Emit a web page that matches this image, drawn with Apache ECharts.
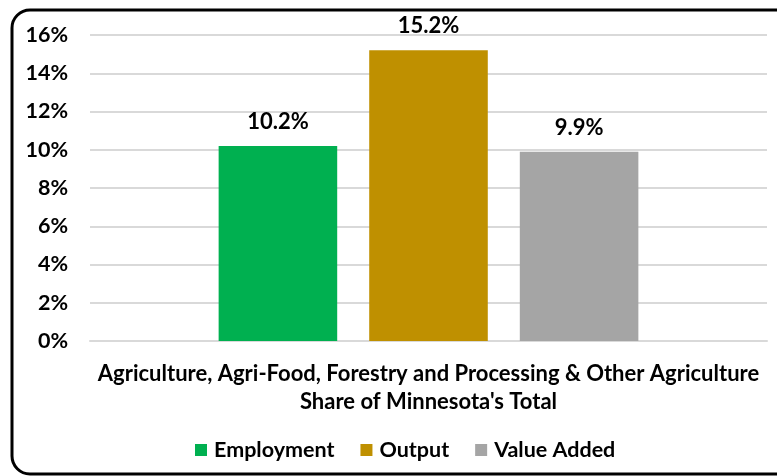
<!DOCTYPE html>
<html>
<head>
<meta charset="utf-8">
<script src="https://cdn.jsdelivr.net/npm/echarts@6/dist/echarts.min.js"></script>
<style>
  html, body { margin: 0; padding: 0; background: #fff; }
  #chart { width: 777px; height: 476px; }
</style>
</head>
<body>
<div id="chart"></div>
<script>
// chart data
const categories = ["Agriculture, Agri-Food, Forestry and Processing & Other Agriculture\nShare of Minnesota's Total"];
const seriesNames = ["Employment", "Output", "Value Added"];
const seriesColors = ["#00B050", "#BF9000", "#A5A5A5"];
const employment = [10.2];
const output = [15.2];
const valueAdded = [9.9];
const yTicks = [0, 2, 4, 6, 8, 10, 12, 14, 16];

const font = "Lato";
const values = [employment, output, valueAdded];

let series = seriesNames.map((name, i) => ({
  name: name,
  type: "bar",
  data: values[i],
  itemStyle: { color: seriesColors[i] },
  barGap: "27%",
  barCategoryGap: "38%",
  label: {
    show: true,
    position: "top",
    distance: 13,
    fontFamily: font,
    fontWeight: "bold",
    fontSize: 22,
    color: "#000",
    formatter: p => p.value.toFixed(1) + "%"
  }
}));

let option = {
  animation: false,
  graphic: [{
    type: "rect",
    shape: { x: 12, y: 10, width: 800, height: 464, r: 18 },
    style: { fill: "none", stroke: "#000", lineWidth: 3 }
  }],
  grid: { left: 90, right: 10, top: 35, bottom: 135 },
  legend: {
    top: 434,
    left: 190,
    icon: "rect",
    itemWidth: 12,
    itemHeight: 12,
    itemGap: 26,
    textStyle: { fontFamily: font, fontWeight: "bold", fontSize: 21.5, color: "#000", padding: [0, 0, 0, 2] },
    data: seriesNames
  },
  xAxis: {
    type: "category",
    data: [""],
    name: categories[0],
    nameLocation: "middle",
    nameGap: 19,
    nameTextStyle: {
      fontFamily: font, fontWeight: "bold", fontSize: 22, color: "#000",
      lineHeight: 28, verticalAlign: "top"
    },
    axisLine: { lineStyle: { color: "#D9D9D9", width: 2 } },
    axisTick: { show: false },
    axisLabel: { show: false }
  },
  yAxis: {
    type: "value",
    min: yTicks[0],
    max: yTicks[yTicks.length - 1],
    interval: 2,
    axisLine: { show: false },
    axisTick: { show: false },
    axisLabel: {
      margin: 22,
      fontFamily: font, fontWeight: "bold", fontSize: 21.5, color: "#000",
      formatter: v => v + "%"
    },
    splitLine: { lineStyle: { color: "#D9D9D9", width: 2 } }
  },
  series: series
};

let myChart = echarts.init(document.getElementById("chart"));
myChart.setOption(option);
</script>
</body>
</html>
